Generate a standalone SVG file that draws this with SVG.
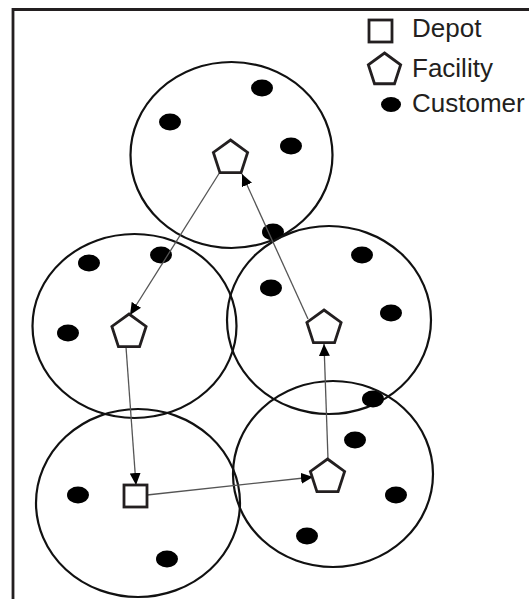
<svg xmlns="http://www.w3.org/2000/svg" width="529" height="599" viewBox="0 0 529 599">
<style>
.frame{stroke:#231f20;stroke-width:2.8;fill:none}
.zone{fill:none;stroke:#111;stroke-width:2.2}
.cust{fill:#000}
.fac{fill:#fff;stroke:#231f20;stroke-width:2.8;stroke-linejoin:miter}
.dep{fill:#fff;stroke:#231f20;stroke-width:2.8}
.edge{stroke:#555;stroke-width:1.3;fill:none;marker-end:url(#ah)}
.lbl{font-family:"Liberation Sans",Arial,sans-serif;font-size:26px;fill:#231f20}
</style>
<defs>
<marker id="ah" markerUnits="userSpaceOnUse" markerWidth="13" markerHeight="11" refX="12" refY="5.5" orient="auto">
<path d="M0,0 L12,5.5 L0,11 z" fill="#000"/>
</marker>
<polygon id="pent" points="0,-18 17.12,-5.56 10.58,14.56 -10.58,14.56 -17.12,-5.56"/>
</defs>
<rect width="529" height="599" fill="#fff"/>
<path class="frame" d="M13,599 L13,9.5 L529,9.5"/>

<g id="legend">
<rect class="dep" x="369" y="20" width="23" height="22"/>
<polygon class="fac" points="384.5,53 400.67,64.75 394.49,83.75 374.51,83.75 368.33,64.75"/>
<ellipse class="cust" cx="391" cy="104.5" rx="10" ry="7.5"/>
<text class="lbl" x="412" y="37">Depot</text>
<text class="lbl" x="412" y="77">Facility</text>
<text class="lbl" x="412" y="112">Customer</text>
</g>

<g id="zone-top">
<ellipse class="zone" cx="231.5" cy="155" rx="101" ry="93"/>
<ellipse class="cust" cx="170" cy="122" rx="11" ry="8.5"/>
<ellipse class="cust" cx="262" cy="88" rx="11" ry="8.5"/>
<ellipse class="cust" cx="291" cy="146" rx="11" ry="8.5"/>
<ellipse class="cust" cx="273" cy="232" rx="11" ry="8.5"/>
</g>
<g id="zone-midleft">
<ellipse class="zone" cx="134.5" cy="326" rx="102" ry="92"/>
<ellipse class="cust" cx="89" cy="263" rx="11" ry="8.5"/>
<ellipse class="cust" cx="161" cy="255" rx="11" ry="8.5"/>
<ellipse class="cust" cx="68" cy="333" rx="11" ry="8.5"/>
</g>
<g id="zone-midright">
<ellipse class="zone" cx="329" cy="320" rx="102" ry="94"/>
<ellipse class="cust" cx="362" cy="255" rx="11" ry="8.5"/>
<ellipse class="cust" cx="271" cy="288" rx="11" ry="8.5"/>
<ellipse class="cust" cx="391" cy="313" rx="11" ry="8.5"/>
<ellipse class="cust" cx="373" cy="399" rx="11" ry="8.5"/>
</g>
<g id="zone-botleft">
<ellipse class="zone" cx="138" cy="503" rx="102" ry="94"/>
<ellipse class="cust" cx="78" cy="495" rx="11" ry="8.5"/>
<ellipse class="cust" cx="167" cy="559" rx="11" ry="8.5"/>
</g>
<g id="zone-botright">
<ellipse class="zone" cx="333" cy="474" rx="100" ry="93"/>
<ellipse class="cust" cx="355" cy="440" rx="11" ry="8.5"/>
<ellipse class="cust" cx="396" cy="495" rx="11" ry="8.5"/>
<ellipse class="cust" cx="307" cy="536" rx="11" ry="8.5"/>
</g>

<g id="connectors">
<line class="edge" x1="220" y1="172" x2="130" y2="315"/>
<line class="edge" x1="126" y1="347" x2="136" y2="485"/>
<line class="edge" x1="147" y1="495" x2="313" y2="477"/>
<line class="edge" x1="328" y1="459" x2="324" y2="344"/>
<line class="edge" x1="308" y1="319" x2="242" y2="174"/>
</g>

<g id="facility-top"><use href="#pent" class="fac" x="230.5" y="158"/></g>
<g id="facility-midleft"><use href="#pent" class="fac" x="129" y="332"/></g>
<g id="facility-midright"><use href="#pent" class="fac" x="324" y="328"/></g>
<g id="facility-botright"><use href="#pent" class="fac" x="327.5" y="477"/></g>
<g id="depot"><rect class="dep" x="124" y="485" width="23" height="22"/></g>
</svg>
